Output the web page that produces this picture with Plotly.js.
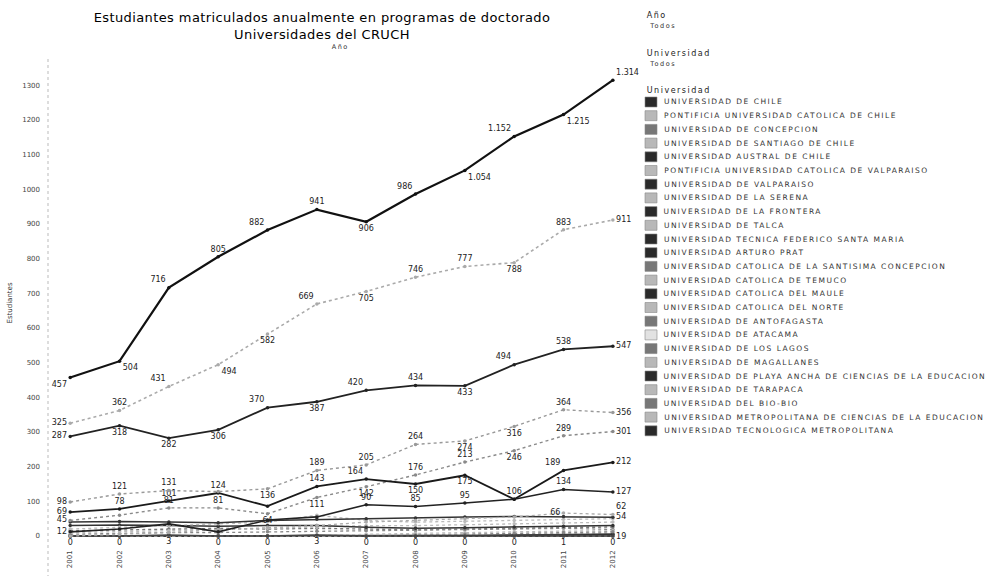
<!DOCTYPE html>
<html>
<head>
<meta charset="utf-8">
<script src="https://cdn.plot.ly/plotly-3.0.1.min.js"></script>
<style>
html,body{margin:0;padding:0;background:#fff;}
#chart{width:994px;height:576px;}
#chart g.annotation text{letter-spacing:1.5px;}
#chart text.gtitle{letter-spacing:0.4px;}
</style>
</head>
<body>
<div id="chart"></div>
<script>
// ---------------- DATA ----------------
const years = [2001, 2002, 2003, 2004, 2005, 2006, 2007, 2008, 2009, 2010, 2011, 2012];
const yearLabels = ['2001','2002','2003','2004','2005','2006','2007','2008','2009','2010','2011','2012'];
const yTicks = [0,100,200,300,400,500,600,700,800,900,1000,1100,1200,1300];

const universidades = [
  'UNIVERSIDAD DE CHILE',
  'PONTIFICIA UNIVERSIDAD CATOLICA DE CHILE',
  'UNIVERSIDAD DE CONCEPCION',
  'UNIVERSIDAD DE SANTIAGO DE CHILE',
  'UNIVERSIDAD AUSTRAL DE CHILE',
  'PONTIFICIA UNIVERSIDAD CATOLICA DE VALPARAISO',
  'UNIVERSIDAD DE VALPARAISO',
  'UNIVERSIDAD DE LA SERENA',
  'UNIVERSIDAD DE LA FRONTERA',
  'UNIVERSIDAD DE TALCA',
  'UNIVERSIDAD TECNICA FEDERICO SANTA MARIA',
  'UNIVERSIDAD ARTURO PRAT',
  'UNIVERSIDAD CATOLICA DE LA SANTISIMA CONCEPCION',
  'UNIVERSIDAD CATOLICA DE TEMUCO',
  'UNIVERSIDAD CATOLICA DEL MAULE',
  'UNIVERSIDAD CATOLICA DEL NORTE',
  'UNIVERSIDAD DE ANTOFAGASTA',
  'UNIVERSIDAD DE ATACAMA',
  'UNIVERSIDAD DE LOS LAGOS',
  'UNIVERSIDAD DE MAGALLANES',
  'UNIVERSIDAD DE PLAYA ANCHA DE CIENCIAS DE LA EDUCACION',
  'UNIVERSIDAD DE TARAPACA',
  'UNIVERSIDAD DEL BIO-BIO',
  'UNIVERSIDAD METROPOLITANA DE CIENCIAS DE LA EDUCACION',
  'UNIVERSIDAD TECNOLOGICA METROPOLITANA'
];

const uChile      = [457, 504, 716, 805, 882, 941, 906, 986, 1054, 1152, 1215, 1314];
const uPUC        = [325, 362, 431, 494, 582, 669, 705, 746, 777, 788, 883, 911];
const uConcepcion = [287, 318, 282, 306, 370, 387, 420, 434, 433, 494, 538, 547];
const uSantiago   = [98, 121, 131, 128, 136, 189, 205, 264, 274, 316, 364, 356];
const uAustral    = [69, 78, 101, 124, 86, 143, 164, 150, 175, 106, 189, 212];
const uPUCV       = [45, 60, 81, 81, 64, 111, 142, 176, 213, 246, 289, 301];
const uValparaiso = [12, 20, 35, 12, 46, 55, 90, 85, 95, 106, 134, 127];
const uSerena     = [0, 5, 10, 18, 25, 30, 40, 45, 50, 55, 66, 62];
const uFrontera   = [40, 42, 40, 38, 45, 48, 50, 52, 55, 56, 56, 54];
const uTalca      = [20, 25, 30, 35, 40, 60, 45, 40, 42, 45, 48, 50];
const uUTFSM      = [30, 32, 30, 28, 30, 30, 25, 22, 24, 26, 28, 30];
const uPrat       = [0, 0, 3, 0, 0, 3, 0, 0, 0, 0, 1, 0];
const uUCSC       = [0, 0, 0, 0, 0, 0, 0, 3, 5, 8, 10, 12];
const uTemuco     = [0, 0, 0, 0, 0, 0, 5, 8, 10, 12, 14, 15];
const uMaule      = [0, 0, 0, 0, 0, 0, 0, 0, 0, 2, 3, 4];
const uUCN        = [10, 12, 15, 18, 22, 25, 30, 30, 32, 35, 38, 40];
const uAntofagasta= [5, 8, 10, 10, 12, 14, 15, 16, 18, 20, 22, 19];
const uAtacama    = [0, 0, 0, 0, 0, 0, 0, 0, 0, 0, 0, 0];
const uLagos      = [0, 0, 0, 0, 0, 0, 0, 0, 0, 3, 5, 6];
const uMagallanes = [0, 0, 0, 0, 0, 0, 0, 0, 0, 0, 2, 3];
const uPlayaAncha = [0, 0, 0, 0, 0, 0, 0, 0, 0, 0, 0, 0];
const uTarapaca   = [0, 0, 0, 0, 0, 0, 0, 2, 4, 5, 6, 8];
const uBioBio     = [15, 18, 20, 22, 20, 22, 20, 18, 20, 22, 25, 26];
const uUMCE       = [0, 0, 0, 0, 0, 0, 0, 0, 0, 0, 0, 0];
const uUTEM       = [0, 0, 0, 0, 0, 0, 0, 0, 0, 0, 0, 0];

const series = [uChile, uPUC, uConcepcion, uSantiago, uAustral, uPUCV, uValparaiso, uSerena,
  uFrontera, uTalca, uUTFSM, uPrat, uUCSC, uTemuco, uMaule, uUCN, uAntofagasta, uAtacama,
  uLagos, uMagallanes, uPlayaAncha, uTarapaca, uBioBio, uUMCE, uUTEM];

// ---------------- STYLE ----------------
const LS = 1.5; // legend letter spacing (px), matches CSS above
const DK = '#2a2a2a', MD = '#777', LT = '#b8b8b8', VL = '#e2e2e2';
const T='top center', B='bottom center', L='middle left', R='middle right',
      TL='top left', TR='top right', BL='bottom left', BR='bottom right', _=null;
const styles = [
  {c:'#111', w:2.2, d:'solid', sw:DK, tp:[BL,BR,TL,T,TL,T,B,TL,BR,TL,BR,TR]},
  {c:'#aaa', w:1.6, d:'dot',   sw:LT, tp:[L,T,TL,BR,B,TL,B,T,T,B,T,R]},
  {c:'#222', w:1.8, d:'solid', sw:MD, tp:[L,B,B,B,TL,B,TL,T,B,TL,T,R]},
  {c:'#999', w:1.4, d:'dot',   sw:LT, tp:[L,T,T,_,B,T,T,T,B,B,T,R]},
  {c:'#1a1a1a', w:1.8, d:'solid', sw:DK, tp:[L,T,T,T,_,T,TL,B,B,T,TL,R]},
  {c:'#8a8a8a', w:1.4, d:'dot', sw:LT, tp:[L,_,T,T,B,B,B,T,T,B,T,R]},
  {c:'#222', w:1.6, d:'solid', sw:DK, tp:[L,_,_,_,_,_,T,T,T,_,T,R]},
  {c:'#aaa', w:1.3, d:'dot',   sw:LT, tp:[_,_,_,_,_,_,_,_,_,_,L,TR]},
  {c:'#333', w:1.5, d:'solid', sw:DK, tp:[_,_,_,_,_,_,_,_,_,_,_,R]},
  {c:'#bbb', w:1.3, d:'dot',   sw:LT, tp:null},
  {c:'#333', w:1.5, d:'solid', sw:DK, tp:null},
  {c:'#444', w:1.5, d:'solid', sw:DK, tp:[B,B,B,B,B,B,B,B,B,B,B,B]},
  {c:'#888', w:1.3, d:'dot',   sw:MD, tp:null},
  {c:'#bbb', w:1.3, d:'dot',   sw:LT, tp:null},
  {c:'#333', w:1.5, d:'solid', sw:DK, tp:null},
  {c:'#bbb', w:1.3, d:'dot',   sw:LT, tp:null},
  {c:'#888', w:1.3, d:'dot',   sw:MD, tp:[_,_,_,_,_,_,_,_,_,_,_,BR]},
  {c:'#ddd', w:1.3, d:'dot',   sw:VL, tp:null},
  {c:'#555', w:1.5, d:'solid', sw:MD, tp:null},
  {c:'#bbb', w:1.3, d:'dot',   sw:LT, tp:null},
  {c:'#333', w:1.5, d:'solid', sw:DK, tp:null},
  {c:'#bbb', w:1.3, d:'dot',   sw:LT, tp:null},
  {c:'#777', w:1.4, d:'dot',   sw:MD, tp:null},
  {c:'#bbb', w:1.3, d:'dot',   sw:LT, tp:null},
  {c:'#333', w:1.5, d:'solid', sw:DK, tp:null}
];

function fmt(v){ return v >= 1000 ? Math.floor(v/1000) + '.' + String(v % 1000).padStart(3,'0') : String(v); }

const traces = [];
for (let i = series.length - 1; i >= 0; i--) {
  const s = styles[i];
  const tp = s.tp || years.map(() => null);
  traces.push({
    type: 'scatter',
    mode: 'lines+markers+text',
    name: universidades[i],
    x: years,
    y: series[i],
    text: series[i].map((v, k) => tp[k] ? fmt(v) : ''),
    textposition: tp.map(p => p || 'top center'),
    textfont: {family: 'DejaVu Sans', size: 8, color: '#222'},
    line: {color: s.c, width: s.w, dash: s.d},
    marker: {color: s.c, size: 3.5},
    cliponaxis: false,
    showlegend: false,
    hoverinfo: 'x+y+name'
  });
}

// pixel -> paper helpers (plot area: x 48..640, y 58..548)
const PL = 48, PR = 640, PT = 58, PB = 548;
const px = x => (x - PL) / (PR - PL);
const py = y => (PB - y) / (PB - PT);

const shapes = [
  {type:'line', xref:'paper', yref:'paper', x0:0, x1:0, y0:py(578), y1:1,
   line:{color:'#bbb', width:1, dash:'dot'}}
];
function leftText(text, x, y, size, color){
  return {text:text, xref:'paper', yref:'paper', x:px(x), y:py(y), xanchor:'left', yanchor:'middle',
    xshift: text.length * LS / 2, showarrow:false, font:{family:'DejaVu Sans', size:size, color:color}};
}
const annotations = [
  {text:'Año', xref:'paper', yref:'paper', x:px(340), y:py(47), yanchor:'middle', showarrow:false,
   font:{family:'DejaVu Sans', size:6.5, color:'#333'}},
  leftText('Año', 645, 15, 8, '#222'), leftText('Todos', 647, 26, 6.5, '#333'),
  leftText('Universidad', 645, 53, 8, '#222'), leftText('Todos', 647, 64, 6.5, '#333'),
  leftText('Universidad', 645, 90, 8, '#222')
];
universidades.forEach((name, i) => {
  const yc = 102 + i * 13.7;
  shapes.push({type:'rect', xref:'paper', yref:'paper', x0:px(645), x1:px(657), y0:py(yc+5), y1:py(yc-5),
    fillcolor: styles[i].sw, line:{color:'#888', width:0.6}});
  annotations.push(leftText(name, 662, yc, 7.5, '#333'));
});

const layout = {
  width: 994, height: 576,
  margin: {l: PL, r: 994 - PR, t: PT, b: 576 - PB},
  paper_bgcolor: '#fff', plot_bgcolor: '#fff',
  title: {
    text: 'Estudiantes matriculados anualmente en programas de doctorado<br>Universidades del CRUCH',
    font: {family: 'DejaVu Sans', size: 13, color: '#000'},
    x: px(322), xref: 'paper', xanchor: 'center', yref: 'container', y: 1 - 22/576, yanchor: 'top'
  },
  xaxis: {
    range: [2000.55, 2012.55], tickvals: years, ticktext: yearLabels, tickangle: -90,
    tickfont: {family: 'DejaVu Sans', size: 7, color: '#444'},
    showgrid: false, zeroline: false, showline: false, ticks: ''
  },
  yaxis: {
    range: [-34.6, 1378], tickvals: yTicks, ticktext: yTicks.map(String),
    tickfont: {family: 'DejaVu Sans', size: 7, color: '#444'}, ticklabelstandoff: 7,
    showgrid: false, zeroline: false, showline: false, ticks: '',
    title: {text: 'Estudiantes', font: {family: 'DejaVu Sans', size: 7, color: '#333'}, standoff: 8}
  },
  showlegend: false,
  shapes: shapes,
  annotations: annotations
};

Plotly.newPlot('chart', traces, layout, {displayModeBar: false, staticPlot: true});
</script>
</body>
</html>
